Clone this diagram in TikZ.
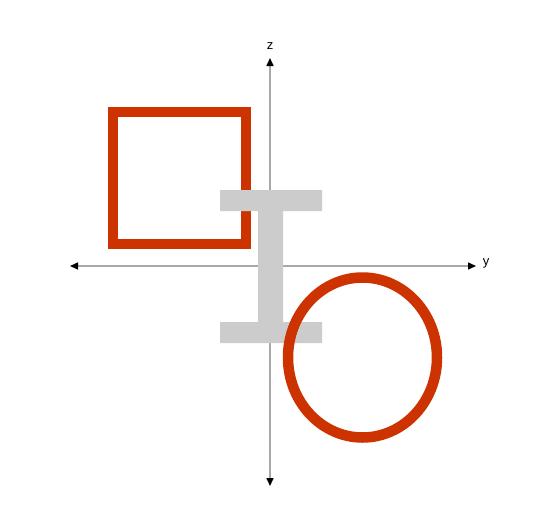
\documentclass[tikz,border=0pt]{standalone}
\usepackage{fontspec}
\setmainfont{Liberation Sans}
\usetikzlibrary{arrows.meta}
\definecolor{beamred}{HTML}{CC3300}
\definecolor{beamgray}{HTML}{CCCCCC}
\definecolor{axisgray}{HTML}{A8A8A8}
\begin{document}
\begin{tikzpicture}[x=1pt,y=-1pt,
  axis/.style={draw=axisgray,line width=1.5pt,-{Triangle[length=8pt,width=7pt,color=black]}},
  outline/.style={draw=beamred,line width=10pt},
  beam/.style={fill=beamgray,draw=none},
  lbl/.style={font=\fontsize{13}{13}\selectfont,inner sep=0pt}]
\useasboundingbox (0,0) rectangle (535,517);
\fill[white] (0,0) rectangle (535,517);
% origin and axis ends
\coordinate (o) at (270,266);
\coordinate (ztop) at (270,58);
\coordinate (zbot) at (270,486);
\coordinate (yright) at (476,266);
\coordinate (yleft) at (70,266);
% axes
\draw[axis] (o) -- (ztop);
\draw[axis] (o) -- (zbot);
\draw[axis] (o) -- (yright);
\draw[axis] (o) -- (yleft);
\node[lbl] (zl) at (270,46) {z};
\node[lbl] (yl) at (486,263) {y};
% square tube
\draw[outline] (113,112) rectangle (246,244);
% I-beam
\path[beam] (220,190) rectangle (322,211)
            (258,210) rectangle (283,323)
            (220,322) rectangle (322,343);
% round tube
\draw[outline,line width=10.5pt] (362.5,357.5) ellipse [x radius=74.5, y radius=80];
\end{tikzpicture}
\end{document}
